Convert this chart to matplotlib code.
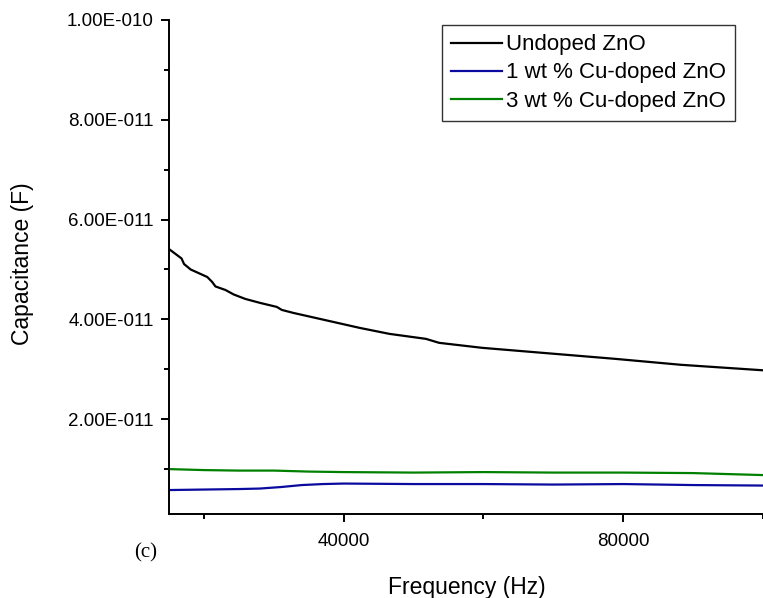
"""Capacitance vs frequency for undoped and Cu-doped ZnO."""

import matplotlib
matplotlib.use("Agg")
import matplotlib.pyplot as plt
from matplotlib.ticker import FixedLocator, FuncFormatter, NullFormatter

# frequency (Hz) and capacitance (F)
freq_undoped = [15000, 16800, 17150, 18100, 20470, 21180, 21650, 23070, 24250,
                25920, 28050, 30430, 31140, 32790, 37540, 42280, 46540, 51760,
                53660, 59820, 69300, 78790, 88270, 100000]
cap_undoped = [5.41, 5.22, 5.11, 5.00, 4.85, 4.75, 4.66, 4.59, 4.50,
               4.41, 4.33, 4.25, 4.19, 4.13, 3.98, 3.83, 3.71, 3.61,
               3.53, 3.43, 3.32, 3.21, 3.09, 2.98]

freq_cu1 = [15000, 20000, 25000, 28000, 31000, 34000, 37000, 40000, 50000,
            60000, 70000, 80000, 90000, 100000]
cap_cu1 = [0.58, 0.59, 0.60, 0.61, 0.64, 0.68, 0.70, 0.71, 0.70,
           0.70, 0.69, 0.70, 0.68, 0.67]

freq_cu3 = [15000, 20000, 25000, 30000, 35000, 40000, 50000, 60000, 70000,
            80000, 90000, 100000]
cap_cu3 = [1.00, 0.98, 0.97, 0.97, 0.95, 0.94, 0.93, 0.94, 0.93,
           0.93, 0.92, 0.88]

labels = ["Undoped ZnO", "1 wt % Cu-doped ZnO", "3 wt % Cu-doped ZnO"]
colors = ["#000000", "#0a0a9e", "#008000"]


def sci_fmt(v, _pos):
    if v == 0:
        return ""
    s = f"{v:.2E}"
    m, e = s.split("E")
    return f"{m}E{int(e):04d}"


plt.rcParams["font.family"] = ["Liberation Sans", "DejaVu Sans"]

fig = plt.figure(figsize=(7.63, 5.98), dpi=100)
ax = fig.add_axes([169 / 763, 84 / 598, 1 - 169 / 763, 494 / 598])

series = [(freq_undoped, cap_undoped), (freq_cu1, cap_cu1), (freq_cu3, cap_cu3)]
for (x, y), lab, c in zip(series, labels, colors):
    ax.plot(x, [v * 1e-11 for v in y], color=c, lw=1.6, label=lab)

ax.set_xlim(15000, 100000)
ax.set_ylim(1e-12, 1e-10)

ax.xaxis.set_major_locator(FixedLocator([40000, 80000]))
ax.xaxis.set_minor_locator(FixedLocator([20000, 60000, 100000]))
ax.xaxis.set_minor_formatter(NullFormatter())
ax.yaxis.set_major_locator(FixedLocator([2e-11, 4e-11, 6e-11, 8e-11, 1e-10]))
ax.yaxis.set_minor_locator(FixedLocator([1e-11, 3e-11, 5e-11, 7e-11, 9e-11]))
ax.yaxis.set_major_formatter(FuncFormatter(sci_fmt))
ax.yaxis.get_offset_text().set_visible(False)

for side in ("top", "right"):
    ax.spines[side].set_visible(False)
for side in ("left", "bottom"):
    ax.spines[side].set_linewidth(1.4)

ax.tick_params(axis="both", which="major", direction="out", length=6,
               width=1.4, labelsize=13.5)
ax.tick_params(axis="both", which="minor", direction="out", length=3.5,
               width=1.4)
ax.tick_params(axis="y", which="major", pad=5)
ax.tick_params(axis="x", which="major", pad=8)

fig.text(467 / 763, 1 - 594 / 598, "Frequency (Hz)", ha="center",
         va="baseline", fontsize=16.5)
fig.text(23 / 763, 1 - 264 / 598, "Capacitance (F)", ha="center",
         va="center", rotation=90, fontsize=16.5)
fig.text(146 / 763, 1 - 553 / 598, "(c)", ha="center", va="center",
         fontsize=15, family="Liberation Serif")

leg = ax.legend(loc="upper right", bbox_to_anchor=(735 / 763, 1 - 25 / 598),
                bbox_transform=fig.transFigure, borderaxespad=0,
                fontsize=16, frameon=True, fancybox=False,
                handlelength=2.3, handletextpad=0.15, labelspacing=0.32,
                borderpad=0.42)
leg.get_frame().set_edgecolor("#000000")
leg.get_frame().set_linewidth(1.0)

fig.savefig("out.png", dpi=100)
